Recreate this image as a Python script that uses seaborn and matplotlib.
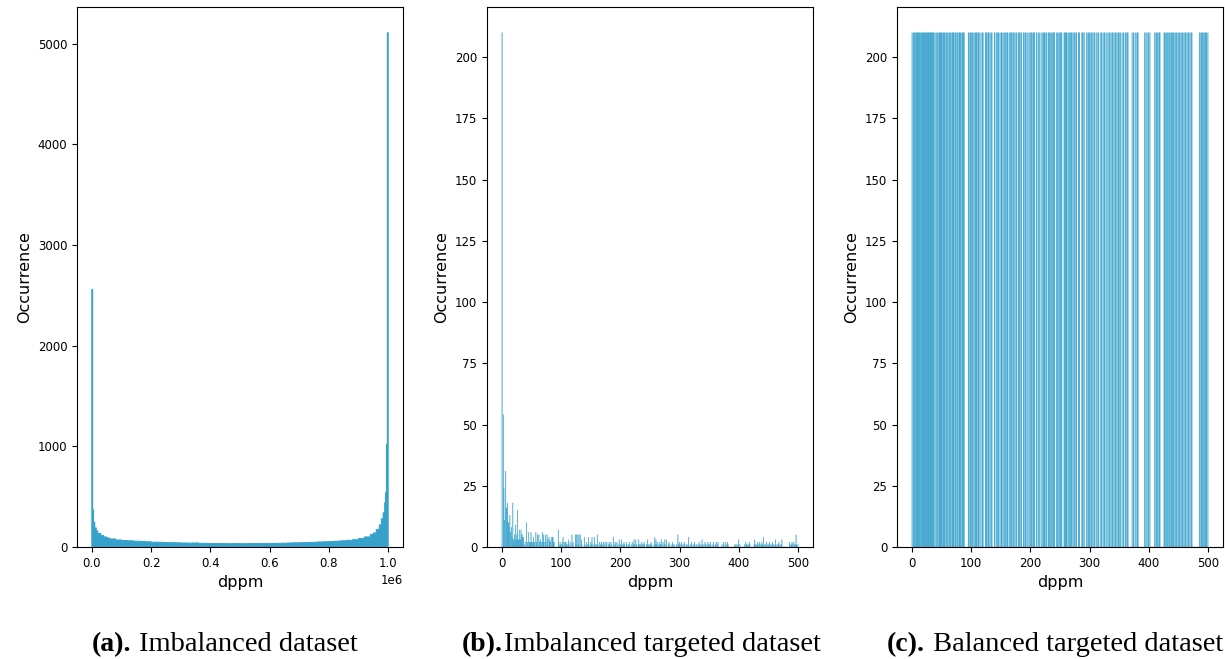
import matplotlib
matplotlib.use("Agg")
import matplotlib.pyplot as plt
import seaborn as sns
import numpy as np
import pandas as pd

# ---------------- data ----------------
# (a) Imbalanced dataset: histogram bin edges (dppm) and bar heights
a_edges = [0, 3000, 6000, 10000, 15000, 20000, 30000, 40000, 50000, 60000, 80000,
           100000, 120000, 140000, 160000, 180000, 200000, 220000, 240000, 260000, 280000,
           300000, 320000, 340000, 360000, 380000, 400000, 420000, 440000, 460000, 480000,
           500000, 520000, 540000, 560000, 580000, 600000, 620000, 640000, 660000, 680000,
           700000, 720000, 740000, 760000, 780000, 800000, 820000, 840000, 860000, 880000,
           900000, 920000, 940000, 950000, 960000, 970000, 977000, 983000, 988000, 991000,
           994000, 997000, 1000000]
a_counts = [2560, 370, 245, 190, 160, 135, 115, 100, 90, 80,
            70, 65, 62, 58, 56, 52, 48, 47, 44, 43,
            42, 40, 39, 40, 37, 36, 34, 35, 34, 33,
            34, 33, 34, 35, 34, 36, 35, 37, 38, 40,
            42, 43, 45, 47, 50, 52, 55, 58, 62, 67,
            73, 85, 100, 125, 140, 175, 220, 280, 340, 440,
            540, 1020, 5110]

# (b) Imbalanced targeted dataset: notable bars (dppm value -> occurrence); other present values occur once
b_peak_values = [0, 2, 3, 4, 6, 7, 8, 9, 10, 11, 12, 13, 14, 16, 17, 18, 19, 20, 21, 22, 23, 24, 25,
                 26, 27, 28, 29, 30, 31, 32, 33, 34, 35, 36, 39, 41, 43, 45, 46, 47, 48, 49, 50, 51,
                 53, 54, 55, 57, 58, 60, 62, 63, 65, 66, 68, 69, 70, 71, 73, 74, 76, 77, 79, 80, 81,
                 82, 84, 85, 86, 87, 88, 95, 98, 102, 103, 105, 107, 108, 112, 115, 118, 120, 124,
                 126, 128, 130, 132, 134, 139, 143, 146, 150, 152, 156, 161, 165, 168, 171, 174, 177,
                 181, 184, 188, 191, 194, 198, 202, 206, 210, 215, 220, 223, 226, 231, 236, 240, 246,
                 252, 258, 260, 262, 266, 269, 272, 275, 278, 282, 288, 297, 300, 303, 308, 315, 320,
                 325, 333, 338, 343, 348, 352, 357, 362, 365, 374, 378, 381, 400, 412, 418, 427, 432,
                 435, 439, 442, 447, 452, 457, 462, 468, 473, 486, 490, 493, 497]
b_peak_counts = [210, 54, 24, 11, 31, 16, 16, 18, 10, 10, 8, 13, 6, 8, 4, 18, 3, 2, 5, 3, 9, 3, 5,
                 15, 3, 3, 7, 3, 3, 7, 5, 5, 4, 4, 2, 10, 2, 6, 2, 2, 2, 6, 2, 2,
                 4, 2, 2, 6, 2, 5, 5, 2, 3, 2, 6, 2, 5, 2, 5, 2, 5, 3, 4, 2, 3,
                 2, 4, 4, 4, 2, 2, 7, 2, 2, 4, 2, 2, 2, 3, 2, 5, 2, 5,
                 5, 5, 5, 5, 3, 4, 2, 4, 2, 4, 4, 5, 2, 2, 2, 2, 2,
                 2, 2, 4, 2, 2, 3, 3, 2, 2, 2, 2, 3, 3, 3, 2, 2, 3,
                 2, 4, 3, 2, 2, 3, 2, 3, 3, 2, 2, 5, 2, 2, 2, 4, 2,
                 2, 2, 3, 2, 2, 2, 2, 2, 2, 2, 2, 2, 3, 2, 2, 3, 2,
                 2, 2, 4, 2, 2, 2, 3, 2, 3, 2, 2, 2, 5]

# dppm values (0..500) absent from the targeted datasets (gaps in panel c)
absent_values = [1, 5, 15, 38, 40, 42, 44, 52, 56, 59, 61, 64, 67, 72, 75, 78, 83, 89, 90, 91, 92,
                 93, 94, 97,
                 101, 104, 106, 110, 114, 116, 117, 121, 122, 123, 127, 131, 133, 136, 137, 138,
                 141, 142, 145, 148, 149, 153, 155, 157, 159, 163, 164, 167, 170, 173, 175, 178,
                 179, 183, 186, 187, 190, 193, 195, 197, 199,
                 201, 204, 208, 209, 212, 213, 216, 217, 219, 221, 225, 228, 229, 233, 235, 238,
                 242, 243, 245, 248, 250, 254, 255, 256, 263, 265, 267, 271, 273, 276, 279, 280,
                 284, 285, 286, 290, 292, 293, 294, 296, 299,
                 302, 305, 307, 310, 311, 313, 316, 317, 319, 322, 323, 327, 328, 330, 332, 335,
                 337, 340, 342, 345, 347, 350, 353, 354, 356, 359, 360, 363, 366, 367, 368, 369,
                 370, 371, 373, 376, 377, 379,
                 383, 384, 385, 386, 387, 388, 389, 390, 391, 392, 394, 396, 398, 401, 403, 404,
                 405, 406, 407, 408, 409, 411, 414, 416, 420, 421, 422, 423, 424, 425, 429, 431,
                 434, 437, 441, 444, 446, 449, 451, 454, 456, 459, 461, 464, 466, 469, 471, 474,
                 475, 476, 477, 478, 479, 480, 481, 482, 483, 484, 485, 488, 492, 495, 499]
dppm_min, dppm_max = 0, 500
c_count = 210  # each present value oversampled to 210 in the balanced dataset

a_yticks = [0, 1000, 2000, 3000, 4000, 5000]
a_xticks = [0, 200000, 400000, 600000, 800000, 1000000]
bc_yticks = [0, 25, 50, 75, 100, 125, 150, 175, 200]
bc_xticks = [0, 100, 200, 300, 400, 500]

captions_bold = ["(a).", "(b).", "(c)."]
captions_text = [" Imbalanced dataset", "Imbalanced targeted dataset", " Balanced targeted dataset"]

# ---------------- derived tables ----------------
a_df = pd.DataFrame({"dppm": [(a_edges[i] + a_edges[i + 1]) / 2 for i in range(len(a_counts))],
                     "count": a_counts})
peaks = dict(zip(b_peak_values, b_peak_counts))
present = sorted((set(range(dppm_min, dppm_max + 1)) - set(absent_values)) | set(b_peak_values))
b_df = pd.DataFrame({"dppm": present, "count": [peaks.get(v, 1) for v in present]})
c_df = pd.DataFrame({"dppm": present, "count": [c_count] * len(present)})

# ---------------- plot ----------------
color = "#36a2cc"
W, H = 1225, 659
fig = plt.figure(figsize=(W / 100, H / 100), dpi=100)
plt.rcParams["font.family"] = ["DejaVu Sans"]

axes_lefts = [77, 487, 897]
ax_w = 326
ax_bottom, ax_top = 547, 7
axes = [fig.add_axes([l / W, (H - ax_bottom) / H, ax_w / W, (ax_bottom - ax_top) / H]) for l in axes_lefts]

sns.histplot(data=a_df, x="dppm", weights="count", bins=a_edges, ax=axes[0],
             color=color, alpha=1, edgecolor=color, linewidth=0.7, snap=False)
thin_kw = dict(color=color, alpha=1, edgecolor=color, linewidth=0.15, snap=False)
sns.histplot(data=b_df, x="dppm", weights="count", discrete=True, ax=axes[1], **thin_kw)
sns.histplot(data=c_df, x="dppm", weights="count", discrete=True, ax=axes[2], **thin_kw)

axes[0].set_yticks(a_yticks)
axes[0].set_xticks(a_xticks)
for ax in axes[1:]:
    ax.set_yticks(bc_yticks)
    ax.set_xticks(bc_xticks)

for ax in axes:
    ax.set_xlabel("dppm", fontsize=11.5)
    ax.set_ylabel("Occurrence", fontsize=11.5)
    ax.tick_params(labelsize=8.5, length=3.5, width=0.8)
    ax.xaxis.get_offset_text().set_fontsize(8.5)
    for s in ax.spines.values():
        s.set_color("black")
        s.set_linewidth(0.8)

# captions
renderer = fig.canvas.get_renderer()
cap_x = [92, 462, 887]
cap_y = (H - 651) / H
for x, b, t in zip(cap_x, captions_bold, captions_text):
    tb = fig.text(x / W, cap_y, b, fontsize=20, fontweight="bold",
                  family="Liberation Serif", va="baseline", ha="left")
    bb = tb.get_window_extent(renderer)
    fig.text(bb.x1 / W + 1 / W, cap_y, t, fontsize=20.5, family="Liberation Serif",
             va="baseline", ha="left")

fig.savefig("out.png", dpi=100)
